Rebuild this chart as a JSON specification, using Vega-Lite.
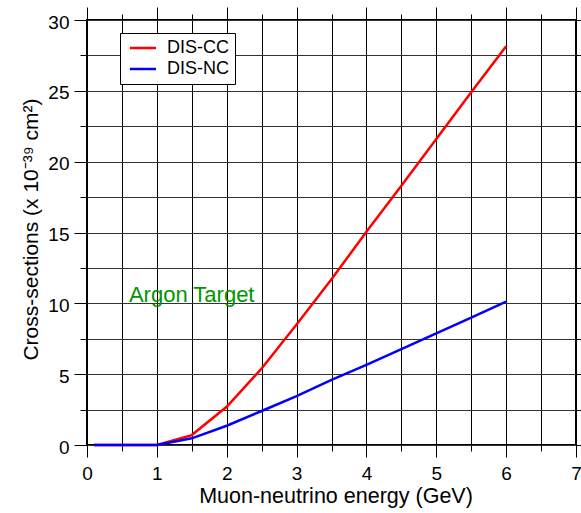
{
  "$schema": "https://vega.github.io/schema/vega-lite/v6.json",
  "width": 489,
  "height": 425,
  "autosize": {"type": "none"},
  "padding": {"left": 87, "top": 20, "right": 5, "bottom": 68},
  "config": {
    "font": "Liberation Sans",
    "view": {"stroke": "#000000", "strokeWidth": 2},
    "axis": {"domain": false, "tickColor": "#000000", "tickWidth": 1, "labelColor": "#000000", "titleColor": "#000000", "titleFontWeight": "normal", "labelFont": "Liberation Sans", "titleFont": "Liberation Sans"}
  },
  "resolve": {"axis": {"x": "independent", "y": "independent"}},
  "layer": [
    {
      "data": {
        "values": [
          {"energy": 0.1, "xsec": 0, "type": "DIS-CC"},
          {"energy": 0.5, "xsec": 0, "type": "DIS-CC"},
          {"energy": 1.0, "xsec": 0, "type": "DIS-CC"},
          {"energy": 1.5, "xsec": 0.7, "type": "DIS-CC"},
          {"energy": 2.0, "xsec": 2.7, "type": "DIS-CC"},
          {"energy": 2.5, "xsec": 5.4, "type": "DIS-CC"},
          {"energy": 3.0, "xsec": 8.5, "type": "DIS-CC"},
          {"energy": 3.5, "xsec": 11.7, "type": "DIS-CC"},
          {"energy": 4.0, "xsec": 15.05, "type": "DIS-CC"},
          {"energy": 4.5, "xsec": 18.3, "type": "DIS-CC"},
          {"energy": 5.0, "xsec": 21.6, "type": "DIS-CC"},
          {"energy": 5.5, "xsec": 24.9, "type": "DIS-CC"},
          {"energy": 6.0, "xsec": 28.15, "type": "DIS-CC"},
          {"energy": 0.1, "xsec": 0, "type": "DIS-NC"},
          {"energy": 0.5, "xsec": 0, "type": "DIS-NC"},
          {"energy": 1.0, "xsec": 0, "type": "DIS-NC"},
          {"energy": 1.5, "xsec": 0.47, "type": "DIS-NC"},
          {"energy": 2.0, "xsec": 1.36, "type": "DIS-NC"},
          {"energy": 2.5, "xsec": 2.4, "type": "DIS-NC"},
          {"energy": 3.0, "xsec": 3.45, "type": "DIS-NC"},
          {"energy": 3.5, "xsec": 4.59, "type": "DIS-NC"},
          {"energy": 4.0, "xsec": 5.65, "type": "DIS-NC"},
          {"energy": 4.5, "xsec": 6.77, "type": "DIS-NC"},
          {"energy": 5.0, "xsec": 7.88, "type": "DIS-NC"},
          {"energy": 5.5, "xsec": 8.99, "type": "DIS-NC"},
          {"energy": 6.0, "xsec": 10.12, "type": "DIS-NC"}
        ]
      },
      "mark": {"type": "line", "strokeWidth": 2.5},
      "encoding": {
        "x": {
          "field": "energy", "type": "quantitative",
          "scale": {"domain": [0, 7], "nice": false, "zero": false},
          "axis": {
            "orient": "bottom",
            "values": [0, 0.5, 1, 1.5, 2, 2.5, 3, 3.5, 4, 4.5, 5, 5.5, 6, 6.5, 7],
            "labelExpr": "datum.value % 1 === 0 ? format(datum.value, 'd') : ''",
            "tickSize": {"condition": {"test": "datum.value % 1 === 0", "value": 12}, "value": 6},
            "labelPadding": 7,
            "labelFontSize": 19,
            "labelFlush": false,
            "labelOverlap": false,
            "grid": true, "gridColor": "#000000", "gridWidth": 1, "gridOpacity": 1,
            "title": "Muon-neutrino energy (GeV)",
            "titleFontSize": 21.5,
            "titleX": 248.5, "titleY": 57, "titleBaseline": "alphabetic", "titleAlign": "center", "titleAnchor": null
          }
        },
        "y": {
          "field": "xsec", "type": "quantitative",
          "scale": {"domain": [0, 30], "nice": false},
          "axis": {
            "orient": "left",
            "values": [0, 2.5, 5, 7.5, 10, 12.5, 15, 17.5, 20, 22.5, 25, 27.5, 30],
            "labelExpr": "datum.value % 5 === 0 ? format(datum.value, 'd') : ''",
            "tickSize": {"condition": {"test": "datum.value % 5 === 0", "value": 13}, "value": 7},
            "labelPadding": 5,
            "labelOffset": 2,
            "labelFontSize": 19,
            "labelFlush": false,
            "labelOverlap": false,
            "grid": true, "gridColor": "#333333", "gridWidth": 1, "gridOpacity": 1,
            "title": "Cross-sections (x 10⁻³⁹ cm²)",
            "titleFontSize": 21,
            "titleX": -50, "titleY": 209, "titleAngle": -90, "titleBaseline": "alphabetic", "titleAlign": "center", "titleAnchor": null
          }
        },
        "color": {
          "field": "type", "type": "nominal",
          "scale": {"domain": ["DIS-CC", "DIS-NC"], "range": ["#ff0000", "#0000ff"]},
          "legend": {
            "title": null,
            "orient": "none",
            "legendX": 33,
            "legendY": 13,
            "direction": "vertical",
            "fillColor": "#ffffff",
            "strokeColor": "#000000",
            "padding": 6,
            "rowPadding": 3,
            "labelFontSize": 18,
            "labelFont": "Liberation Sans",
            "labelColor": "#000000",
            "labelOffset": 15,
            "symbolType": "M-2.6,0H2.6",
            "symbolSize": 100,
            "symbolOffset": 8,
            "symbolStrokeWidth": 2.5
          }
        }
      }
    },
    {
      "data": {"values": [{"energy": 0.6, "xsec": 10.1, "label": "Argon Target"}]},
      "mark": {"type": "text", "align": "left", "baseline": "alphabetic", "fontSize": 22, "color": "#009600", "font": "Liberation Sans"},
      "encoding": {
        "x": {
          "field": "energy", "type": "quantitative",
          "scale": {"domain": [0, 7], "nice": false, "zero": false},
          "axis": {
            "orient": "top",
            "values": [0, 0.5, 1, 1.5, 2, 2.5, 3, 3.5, 4, 4.5, 5, 5.5, 6, 6.5, 7],
            "labels": false,
            "tickSize": {"condition": {"test": "datum.value % 1 === 0", "value": 13}, "value": 6},
            "grid": false,
            "title": null
          }
        },
        "y": {
          "field": "xsec", "type": "quantitative",
          "scale": {"domain": [0, 30], "nice": false},
          "axis": {
            "orient": "right",
            "values": [0, 2.5, 5, 7.5, 10, 12.5, 15, 17.5, 20, 22.5, 25, 27.5, 30],
            "labels": false,
            "tickSize": {"condition": {"test": "datum.value % 5 === 0", "value": 13}, "value": 7},
            "grid": false,
            "title": null
          }
        },
        "text": {"field": "label"}
      }
    }
  ]
}
